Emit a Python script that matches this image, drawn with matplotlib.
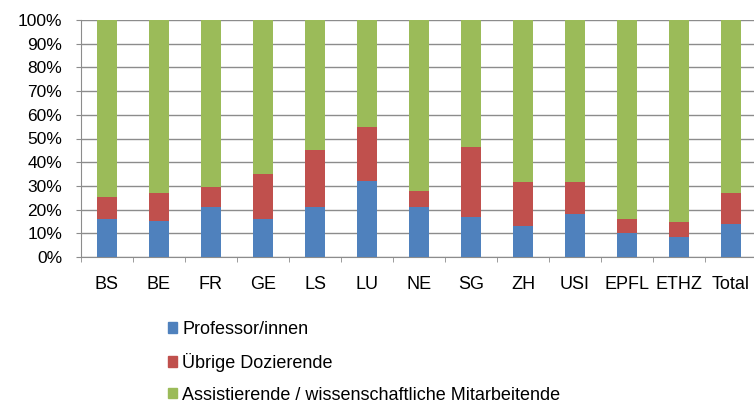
import numpy as np
import matplotlib.pyplot as plt
from matplotlib.patches import Patch
from matplotlib.ticker import MultipleLocator, PercentFormatter

plt.rcParams['font.family'] = ['Liberation Sans', 'DejaVu Sans']

# Anteile in Prozent
hochschulen = ["BS", "BE", "FR", "GE", "LS", "LU", "NE", "SG", "ZH", "USI", "EPFL", "ETHZ", "Total"]
professoren = [16, 15, 21, 16, 21, 32, 21, 17, 13, 18, 10, 8.3, 14]
uebrige = [9.3, 12, 8.7, 19, 24, 23, 7, 29.5, 18.5, 13.8, 6, 6.6, 13]
assistierende = [100 - p - u for p, u in zip(professoren, uebrige)]

serien = ["Professor/innen", "Übrige Dozierende", "Assistierende / wissenschaftliche Mitarbeitende"]
farben = ["#4F81BD", "#C0504D", "#9BBB59"]

fig = plt.figure(figsize=(7.54, 4.03), dpi=100)
ax = fig.add_axes([81/754, 1 - 257/403, 676/754, 237/403])

x = np.arange(len(hochschulen))
b = 0.385
ax.bar(x, professoren, b, color=farben[0], zorder=3)
ax.bar(x, uebrige, b, bottom=professoren, color=farben[1], zorder=3)
ax.bar(x, assistierende, b, bottom=np.add(professoren, uebrige), color=farben[2], zorder=3)

ax.set_xlim(-0.5, len(hochschulen) - 0.5)
ax.set_ylim(0, 100)
ax.yaxis.set_major_locator(MultipleLocator(10))
ax.yaxis.set_major_formatter(PercentFormatter(decimals=0))
ax.grid(axis="y", color="#8c8c8c", linewidth=1, zorder=0)

ax.set_xticks(x)
ax.set_xticklabels(hochschulen)
ax.set_xticks(np.arange(-0.5, len(hochschulen)), minor=True)
ax.tick_params(axis="x", which="major", length=0, pad=13.5, labelsize=13)
ax.tick_params(axis="x", which="minor", length=3.6, color="#8c8c8c")
ax.tick_params(axis="y", length=3.6, color="#8c8c8c", labelsize=12.5, pad=10)

for s in ["top", "right"]:
    ax.spines[s].set_visible(False)
for s in ["left", "bottom"]:
    ax.spines[s].set_color("#8c8c8c")

# Legende unten, letzte Zeile wie im Original am Rand abgeschnitten
handles = [Patch(color=c) for c in farben]
fig.legend(handles, serien, loc="upper left", bbox_to_anchor=(159/754, 1 - 312/403),
           frameon=False, fontsize=13, handlelength=0.5, handleheight=0.5,
           handletextpad=0.3, labelspacing=0.82, borderpad=0)

fig.savefig("out.png", dpi=100)
